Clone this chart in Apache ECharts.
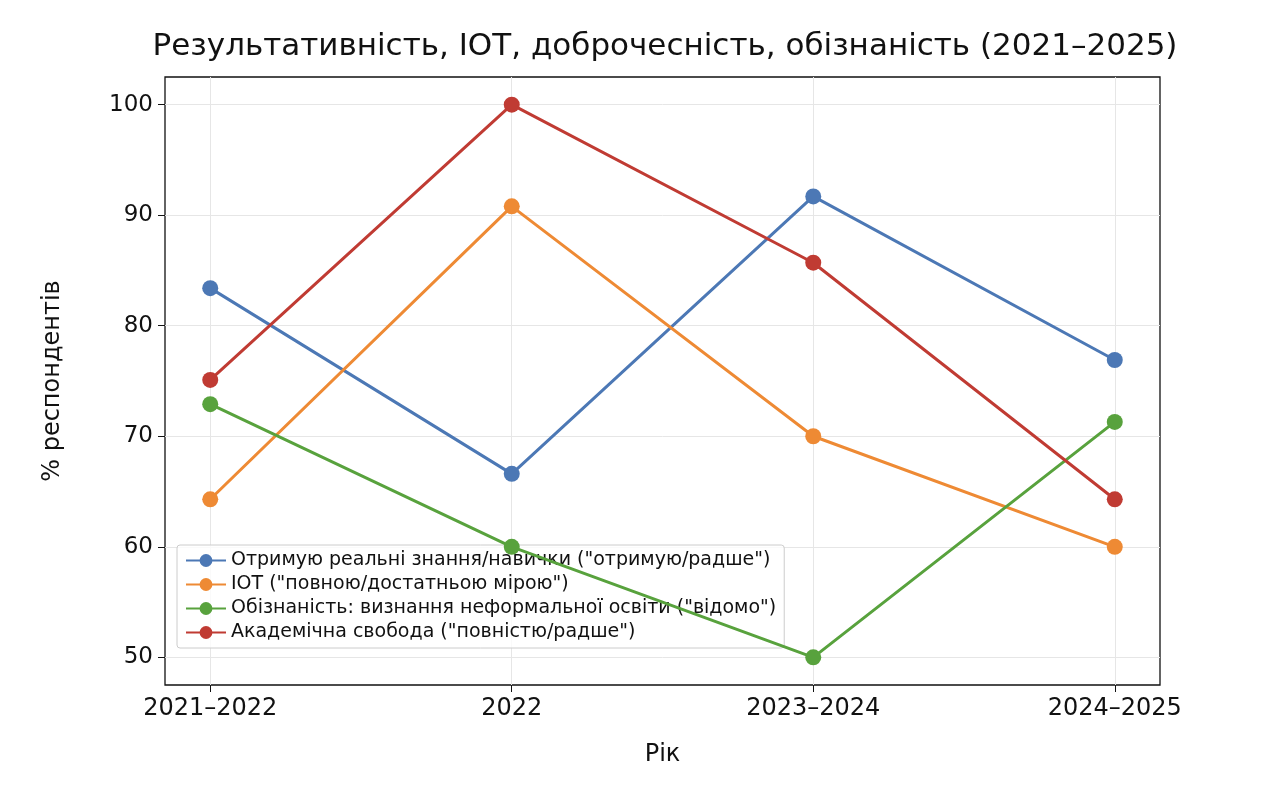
<!DOCTYPE html>
<html><head><meta charset="utf-8">
<script src="https://cdn.jsdelivr.net/npm/echarts@6/dist/echarts.min.js"></script>
<style>html,body{margin:0;background:#fff}#c{width:1264px;height:810px}</style>
</head><body><div id="c"></div>
<script>
const categories = ['2021–2022','2022','2023–2024','2024–2025'];
const seriesNames = [
 'Отримую реальні знання/навички ("отримую/радше")',
 'ІОТ ("повною/достатньою мірою")',
 'Обізнаність: визнання неформальної освіти ("відомо")',
 'Академічна свобода ("повністю/радше")'
];
const knowledge = [83.4, 66.6, 91.7, 76.9];
const iot = [64.3, 90.8, 70.0, 60.0];
const awareness = [72.9, 60.0, 50.0, 71.3];
const freedom = [75.1, 100.0, 85.7, 64.3];
const yTicks = [50, 60, 70, 80, 90, 100];
const colors = ['#4c78b5', '#ee8a34', '#58a23d', '#c03b33'];
const values = [knowledge, iot, awareness, freedom];
const font = 'DejaVu Sans';
const chart = echarts.init(document.getElementById('c'));
chart.setOption({
  animation: false,
  textStyle: {fontFamily: font},
  title: {text: 'Результативність, ІОТ, доброчесність, обізнаність (2021–2025)', left: 660, textAlign: 'center', top: 26,
    textStyle: {fontFamily: font, fontSize: 31, fontWeight: 'normal', color: '#111'}},
  grid: {left: 165, right: 104, top: 77, bottom: 125, show: true, borderColor: '#111', borderWidth: 1.3},
  legend: {orient: 'vertical', left: 177, top: 545, itemGap: 5, itemWidth: 40, itemHeight: 16,
    backgroundColor: 'rgba(255,255,255,0.8)', borderColor: '#ccc', borderWidth: 1, borderRadius: 3, padding: [6, 8],
    textStyle: {fontFamily: font, fontSize: 19, color: '#111'}, data: seriesNames},
  xAxis: {type: 'value', min: -0.15, max: 3.15, name: 'Рік', nameLocation: 'middle', nameGap: 58,
    nameTextStyle: {fontFamily: font, fontSize: 24, color: '#111'},
    axisLine: {show: false, onZero: false},
    axisTick: {show: true, customValues: [0,1,2,3], length: 7, lineStyle: {color: '#111'}},
    axisLabel: {customValues: [0,1,2,3], formatter: v => categories[Math.round(v)], fontSize: 24, color: '#111', margin: 12, fontFamily: font},
    splitLine: {show: true, lineStyle: {color: '#e6e6e6'}}},
  yAxis: {type: 'value', min: 47.5, max: 102.5, name: '% респондентів', nameLocation: 'middle', nameGap: 100,
    nameTextStyle: {fontFamily: font, fontSize: 24, color: '#111'},
    axisLine: {show: false, onZero: false},
    axisTick: {show: true, customValues: yTicks, length: 7, lineStyle: {color: '#111'}},
    axisLabel: {customValues: yTicks, fontSize: 23, color: '#111', margin: 12, fontFamily: font},
    splitLine: {show: true, lineStyle: {color: '#e6e6e6'}}},
  series: values.map((vals, i) => ({
    name: seriesNames[i], type: 'line', data: vals.map((v, j) => [j, v]),
    color: colors[i], symbol: 'circle', symbolSize: 16, lineStyle: {width: 3}, z: 2 + i
  }))
});
</script></body></html>
